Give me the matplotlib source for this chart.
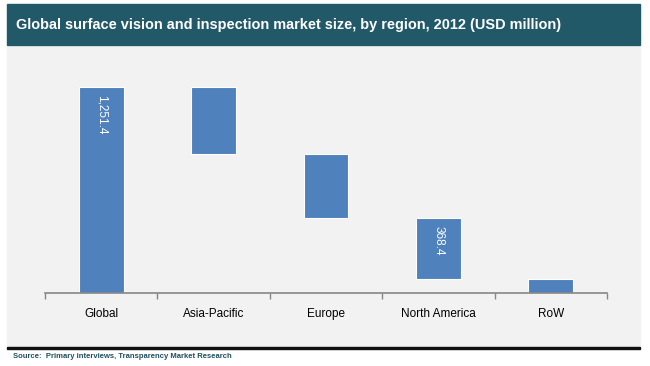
import numpy as np
import matplotlib.pyplot as plt
from matplotlib.patches import Rectangle

plt.rcParams['font.family'] = ['Liberation Sans', 'DejaVu Sans']

regions = ['Global', 'Asia-Pacific', 'Europe', 'North America', 'RoW']
values = [1251.4, 410.0, 385.0, 368.4, 88.0]
shown = ['1,251.4', '', '', '368.4', '']

# waterfall: global total, then regions stacked down from the top
bottoms = [0.0]
top = values[0]
for v in values[1:]:
    top -= v
    bottoms.append(top)
heights = values

W, H = 650, 366
fig = plt.figure(figsize=(W / 100, H / 100), dpi=100)
fig.patch.set_facecolor('white')

# panel and title banner
fig.add_artist(Rectangle((7 / W, 1 - 347 / H), 633 / W, 300 / H,
                         transform=fig.transFigure, color='#f2f2f2', zorder=0))
fig.add_artist(Rectangle((7 / W, 1 - 45 / H), 633 / W, 41 / H,
                         transform=fig.transFigure, color='#215968', zorder=1))
fig.add_artist(Rectangle((7 / W, 1 - 349 / H), 633 / W, 2.2 / H,
                         transform=fig.transFigure, color='#111111', zorder=1))
fig.text(16 / W, 1 - 25 / H,
         'Global surface vision and inspection market size, by region, 2012 (USD million)',
         color='white', fontsize=10.45, fontweight='bold', va='center', ha='left')
fig.text(13 / W, 1 - 357 / H, 'Source:  Primary interviews, Transparency Market Research',
         color='#1f4e5f', fontsize=5.5, fontweight='bold', va='center', ha='left')

ax = fig.add_axes([45 / W, 1 - 293 / H, 562 / W, 233 / H])
ax.set_facecolor('none')
x = np.arange(len(regions))
ax.bar(x, heights, bottom=bottoms, width=0.4, color='#4f81bd',
       edgecolor='white', linewidth=0.8)
for i, lab in enumerate(shown):
    if lab:
        ax.text(x[i], bottoms[i] + heights[i] - 50, lab, rotation=-90,
                color='white', fontsize=8.5, ha='center', va='top')

ax.set_xlim(-0.5, len(regions) - 0.5)
ax.set_ylim(0, 1415)
for s in ['top', 'right', 'left']:
    ax.spines[s].set_visible(False)
ax.spines['bottom'].set_color('#868686')
ax.spines['bottom'].set_linewidth(1.2)
ax.set_yticks([])
ax.set_xticks(np.arange(len(regions) + 1) - 0.5)
ax.set_xticklabels([])
ax.set_xticks(x, minor=True)
ax.set_xticklabels(regions, minor=True)
ax.tick_params(axis='x', which='major', length=4, color='#868686', width=1)
ax.tick_params(axis='x', which='minor', length=0, pad=11, labelsize=8.5,
               labelcolor='black')

fig.savefig('out.png', dpi=100)
